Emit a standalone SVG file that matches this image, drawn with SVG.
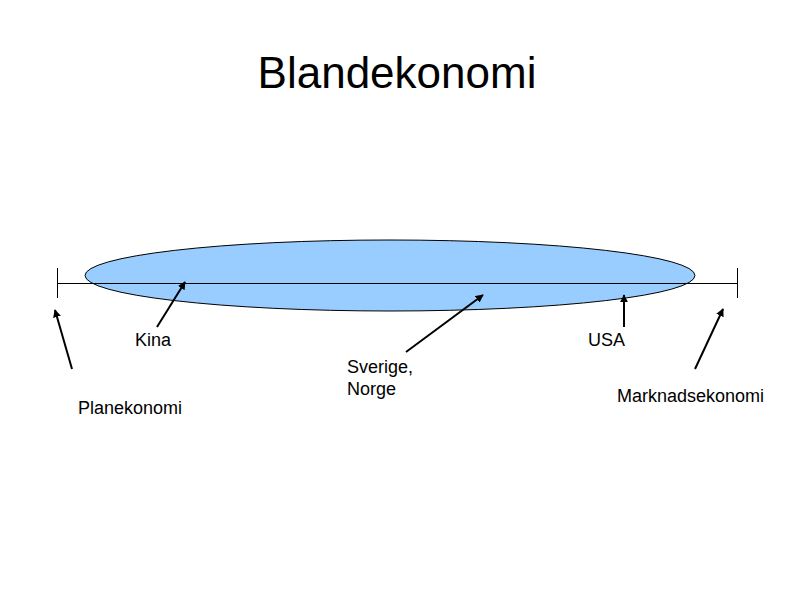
<svg xmlns="http://www.w3.org/2000/svg" width="794" height="595" viewBox="0 0 794 595">
<style>
text{font-family:"Liberation Sans",Arial,sans-serif;fill:#000}
.lbl{font-size:18px}
.ax{stroke:#000;stroke-width:1;fill:none}
.arr{stroke:#000;stroke-width:2;fill:none;marker-end:url(#ah)}
</style>
<defs>
<marker id="ah" viewBox="0 0 10 10" refX="9" refY="5" markerWidth="4" markerHeight="4" orient="auto" markerUnits="strokeWidth">
<path d="M0,0 L10,5 L0,10 z" fill="#000"/>
</marker>
</defs>
<rect width="794" height="595" fill="#fff"/>
<text x="397" y="88" font-size="44" text-anchor="middle">Blandekonomi</text>
<g id="ellipse">
<ellipse cx="390" cy="275.5" rx="305" ry="35.5" fill="#99ccff" stroke="#000" stroke-width="1"/>
</g>
<g id="axis">
<line class="ax" x1="57" y1="283.5" x2="737" y2="283.5"/>
<line class="ax" x1="57.5" y1="268" x2="57.5" y2="298"/>
<line class="ax" x1="737.5" y1="268" x2="737.5" y2="298"/>
</g>
<g id="connectors">
<line class="arr" x1="72" y1="369" x2="55" y2="310"/>
<line class="arr" x1="157" y1="327" x2="185" y2="282"/>
<line class="arr" x1="406" y1="352" x2="483" y2="295"/>
<line class="arr" x1="624" y1="327" x2="624" y2="295"/>
<line class="arr" x1="695" y1="369" x2="723" y2="309"/>
</g>
<g id="planekonomi"><text class="lbl" x="78" y="414">Planekonomi</text></g>
<g id="kina"><text class="lbl" x="135" y="346">Kina</text></g>
<g id="sverige"><text class="lbl" x="347" y="373">Sverige,</text><text class="lbl" x="347" y="395">Norge</text></g>
<g id="usa"><text class="lbl" x="588" y="346">USA</text></g>
<g id="marknad"><text class="lbl" x="617" y="402">Marknadsekonomi</text></g>
</svg>
